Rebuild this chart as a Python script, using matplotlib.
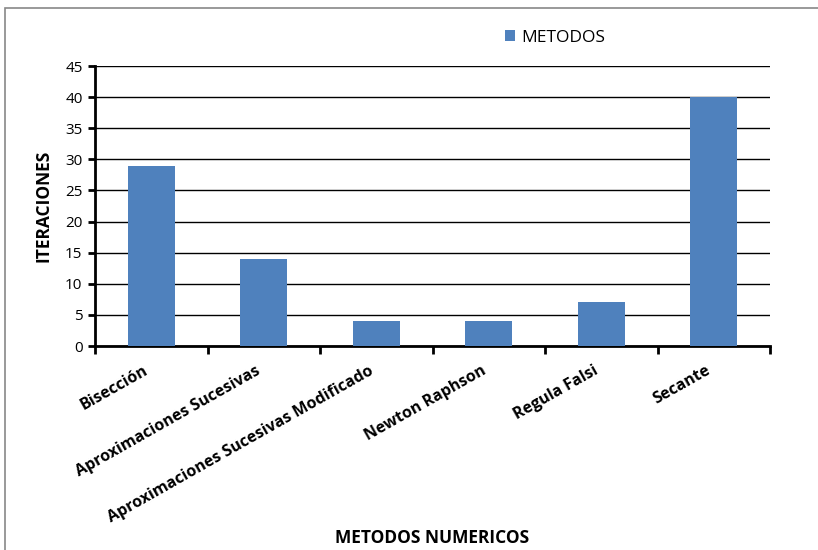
import matplotlib
matplotlib.use("Agg")
import matplotlib.pyplot as plt
from matplotlib.patches import Rectangle

categories = ["Bisección", "Aproximaciones Sucesivas", "Aproximaciones Sucesivas Modificado",
              "Newton Raphson", "Regula Falsi", "Secante"]
values = [29, 14, 4, 4, 7, 40]
series_name = "METODOS"
y_ticks = [0, 5, 10, 15, 20, 25, 30, 35, 40, 45]

plt.rcParams['font.family'] = ['Open Sans', 'DejaVu Sans']

W, H = 818, 550
fig = plt.figure(figsize=(W / 100, H / 100), dpi=100)
ax = fig.add_axes([95 / W, 1 - 346 / H, 675 / W, 280 / H])

color = "#4F81BD"
x = list(range(len(categories)))
ax.bar(x, values, width=0.42, color=color, zorder=3, label=series_name)
ax.set_xlim(-0.5, len(categories) - 0.5)
ax.set_ylim(0, 45)
ax.set_yticks(y_ticks)
ax.set_yticklabels([str(v) for v in y_ticks], fontsize=11)
ax.yaxis.grid(True, color="black", linewidth=1.0, zorder=0)
ax.set_axisbelow(True)

for s in ["top", "right"]:
    ax.spines[s].set_visible(False)
ax.spines["left"].set_linewidth(2)
ax.spines["bottom"].set_linewidth(2)
ax.tick_params(axis="y", direction="out", length=5, width=2, pad=4)

ax.set_xticks([i - 0.5 for i in range(len(categories) + 1)], minor=False)
ax.set_xticklabels([])
ax.tick_params(axis="x", direction="out", length=6, width=2)
for i, c in enumerate(categories):
    ax.annotate(c, xy=(i, 0), xycoords=("data", "axes fraction"), xytext=(-3, -17),
                textcoords="offset points", rotation=29.5, rotation_mode="anchor",
                ha="right", va="center", fontsize=11.5, fontweight="bold")

ax.set_ylabel("ITERACIONES", fontsize=12.5, fontweight="bold", labelpad=9)
fig.text(432 / W, 1 - 538 / H, "METODOS NUMERICOS", ha="center", va="center",
         fontsize=12.5, fontweight="bold")

leg = fig.legend(loc="center left", bbox_to_anchor=(489 / W, 1 - 38 / H), frameon=False,
                 fontsize=12.5, handlelength=0.6, handleheight=0.6, handletextpad=0.35)

fig.patches.append(Rectangle((5 / W, -0.1), 1.2, 1 - 8 / H + 0.1, transform=fig.transFigure,
                             fill=False, edgecolor="#888888", linewidth=1.2))

fig.savefig("out.png", dpi=100)
